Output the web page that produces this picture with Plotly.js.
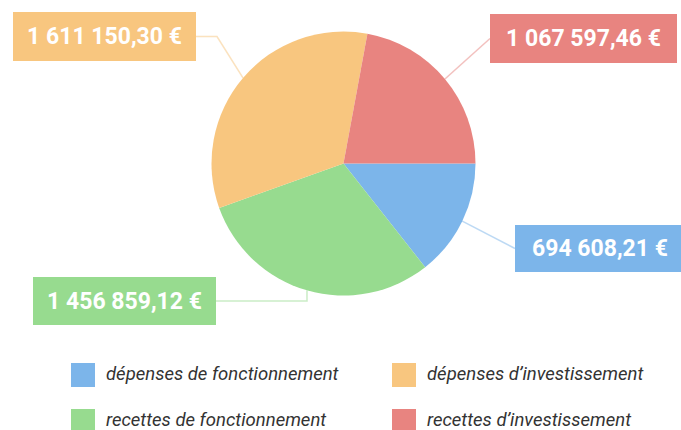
<!DOCTYPE html>
<html><head><meta charset="utf-8">
<script src="https://cdn.plot.ly/plotly-3.0.1.min.js"></script>
<style>html,body{margin:0;padding:0;background:#fff}#chart{width:681px;height:430px}</style>
</head><body><div id="chart"></div>
<script>
const categories = ['dépenses de fonctionnement', 'recettes de fonctionnement', 'dépenses d\u2019investissement', 'recettes d\u2019investissement'];
const values = [694608.21, 1456859.12, 1611150.30, 1067597.46];
const valueLabels = ['694 608,21 \u20ac', '1 456 859,12 \u20ac', '1 611 150,30 \u20ac', '1 067 597,46 \u20ac'];
const colors = ['#7cb5ea', '#97db8f', '#f8c67f', '#e88480'];
const legendOrder = [0, 2, 1, 3];

const W = 681, H = 430;
const CX = 343.5, CY = 163.5, R = 132;
// label boxes: [centerX, centerY, width, height, kneeX]
const boxes = [
  [600, 248.5, 170, 47, 515],
  [124.5, 301, 183, 48, 307],
  [104.5, 36.5, 183, 49, 217],
  [583.5, 38.5, 187, 49, 490]
];
const px = x => x / W, py = y => 1 - y / H;

const total = values.reduce((a, b) => a + b, 0);
const shapes = [], annotations = [];
let cum = 0;
values.forEach((v, i) => {
  const mid = 90 + (cum + v / 2) / total * 360; // degrees clockwise from 12 o'clock
  cum += v;
  const a = mid * Math.PI / 180;
  const ex = CX + R * Math.sin(a), ey = CY - R * Math.cos(a);
  const b = boxes[i];
  const side = b[0] > CX ? b[0] - b[2] / 2 : b[0] + b[2] / 2;
  const kx = b[4], ky = b[1];
  const path = `M ${px(ex)} ${py(ey)} L ${px(kx)} ${py(ky)} L ${px(side)} ${py(ky)}`;
  shapes.push({type: 'path', xref: 'paper', yref: 'paper', path: path, layer: 'below',
    line: {color: colors[i], width: 1.5}, opacity: 0.5});
  annotations.push({xref: 'paper', yref: 'paper', x: px(b[0]), y: py(b[1]), xanchor: 'center', yanchor: 'middle',
    text: valueLabels[i], showarrow: false, bgcolor: colors[i], width: b[2], height: b[3], borderpad: 0, borderwidth: 0,
    font: {family: 'Roboto, sans-serif', size: 23, color: '#ffffff', weight: 'bold'}});
});

// manual legend, two columns
legendOrder.forEach((idx, k) => {
  const col = k % 2, row = Math.floor(k / 2);
  const sx = col === 0 ? 71 : 392;
  const sy = 363 + row * 46;
  shapes.push({type: 'rect', xref: 'paper', yref: 'paper', x0: px(sx), x1: px(sx + 24), y0: py(sy), y1: py(sy + 24),
    fillcolor: colors[idx], line: {width: 0}});
  annotations.push({xref: 'paper', yref: 'paper', x: px(sx + 33), y: py(sy + 11), xanchor: 'left', yanchor: 'middle',
    text: '<i>' + categories[idx] + '</i>', showarrow: false,
    font: {family: 'Roboto, sans-serif', size: 18.5, color: '#333333'}});
});

const trace = {
  type: 'pie', labels: categories, values: values, sort: false, direction: 'clockwise', rotation: 90,
  marker: {colors: colors, line: {width: 0}}, textinfo: 'none', hoverinfo: 'none', showlegend: false,
  domain: {x: [px(CX - R), px(CX + R)], y: [py(CY + R), py(CY - R)]}
};

Plotly.newPlot('chart', [trace], {
  width: W, height: H, margin: {l: 0, r: 0, t: 0, b: 0},
  paper_bgcolor: '#ffffff', showlegend: false, shapes: shapes, annotations: annotations
}, {displayModeBar: false, staticPlot: true});
</script></body></html>
